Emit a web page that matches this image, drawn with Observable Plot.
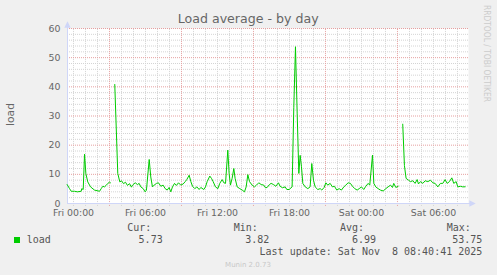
<!DOCTYPE html>
<html><head><meta charset="utf-8">
<script src="https://cdn.jsdelivr.net/npm/d3@7"></script>
<script src="https://cdn.jsdelivr.net/npm/@observablehq/plot@0.6"></script>
<style>
html,body{margin:0;padding:0;background:#f0f0f0;}
#wrap{position:relative;width:497px;height:275px;overflow:hidden;background:#f0f0f0;}
#wrap svg{position:absolute;left:0;top:0;}
</style></head><body><div id="wrap"></div>
<script>
// hours after Fri Nov 7 2025 00:00
const hours = [-0.53,-0.33,-0.19,0.08,0.33,0.64,0.69,0.81,0.92,1.03,1.19,1.42,1.75,2.17,2.31,2.44,2.58,2.72,2.86,3.0,3.08,3.25,3.44,3.69,3.86,4.0,4.17,4.33,4.5,4.67,4.83,4.92,5.14,5.33,5.47,5.61,5.81,5.97,6.08,6.31,6.44,6.58,6.72,6.92,7.08,7.28,7.47,7.64,7.81,7.97,8.11,8.25,8.42,8.58,8.75,8.94,9.14,9.31,9.44,9.64,9.78,9.92,10.11,10.28,10.47,10.61,10.86,11.0,11.14,11.36,11.5,11.64,11.83,12.03,12.19,12.39,12.53,12.67,12.86,12.97,13.08,13.22,13.36,13.47,13.64,13.86,14.06,14.25,14.39,14.53,14.67,14.89,15.08,15.25,15.44,15.64,15.86,16.0,16.14,16.33,16.47,16.67,16.86,17.08,17.22,17.42,17.64,17.78,17.97,18.22,18.36,18.5,18.64,18.78,18.89,19.0,19.11,19.31,19.53,19.72,19.86,20.0,20.14,20.36,20.56,20.69,20.89,21.03,21.19,21.39,21.58,21.75,21.94,22.14,22.33,22.53,22.69,22.89,23.08,23.25,23.44,23.64,23.81,24.0,24.19,24.36,24.56,24.69,24.92,25.03,25.19,25.39,25.58,25.81,26.03,26.22,26.42,26.58,26.69,26.86,27.06,27.25,27.44,27.58,27.72,27.92,28.08,28.28,28.47,28.64,28.75,28.92,29.11,29.31,29.53,29.75,29.94,30.14,30.36,30.58,30.78,30.97,31.14,31.33,31.53,31.69,31.89,32.03,32.25,32.44,32.64];
const load = [6.5,5.1,4.2,4.2,4.0,4.2,5.1,4.8,16.9,10.3,7.4,5.7,4.6,4.2,5.1,5.9,5.7,6.2,6.9,7.3,7.1,null,40.8,10.3,7.4,7.8,6.8,7.3,6.2,6.8,5.6,6.3,7.1,6.5,6.9,5.7,5.1,4.0,4.6,15.1,9.1,5.7,6.3,6.9,7.1,5.9,6.3,5.1,4.6,5.5,4.0,5.7,6.9,6.2,7.1,6.3,6.7,7.5,8.2,9.7,7.5,5.9,5.1,5.7,4.8,5.5,4.8,5.7,7.5,9.4,8.6,7.5,5.7,5.1,6.9,8.2,7.1,6.9,18.3,10.3,6.3,8.6,12.0,8.6,5.7,5.1,4.6,4.0,5.7,9.9,7.5,6.3,5.7,6.3,7.1,6.5,6.3,5.4,5.5,6.5,6.9,6.5,5.9,7.1,5.9,5.4,5.7,4.8,4.8,5.7,33,53.75,31,10.3,16.5,12.6,6.9,5.7,5.1,5.7,13.7,8.0,5.7,4.8,5.1,4.6,5.5,7.1,6.3,6.9,5.7,5.9,4.6,5.1,4.6,5.7,6.3,7.1,6.9,5.9,5.1,4.6,5.1,5.7,4.8,5.9,6.9,6.3,16.6,6.9,5.7,5.1,4.6,4.3,5.1,5.7,6.3,5.5,6.9,5.5,5.9,null,27.2,13,8.6,8.0,7.5,7.8,6.9,8.2,6.7,7.5,6.9,7.8,7.5,8.0,7.1,6.9,5.7,6.9,6.9,8.2,6.9,7.5,8.8,6.9,7.5,5.7,5.9,5.7,5.73];
const yTicks = [0,10,20,30,40,50,60];
const xTickHours = [0,6,12,18,24,30];
const domainHours = [-0.5, 32.92];
const seriesName = "load";
const legendHeaders = ["Cur:","Min:","Avg:","Max:"];
const legendValues = ["5.73","3.82","6.99","53.75"];
const titleText = "Load average - by day";
const lastUpdate = "Last update: Sat Nov  8 08:40:41 2025";
const watermark = "RRDTOOL / TOBI OETIKER";
const footer = "Munin 2.0.73";

const base = Date.UTC(2025,10,7,0,0);
const toDate = h => new Date(base + h*3600e3);
const data = hours.map((h,i)=>({t: toDate(h), v: load[i]}));
const fmt = d3.utcFormat("%a %H:%M");
const lav = "#cfd6f8";
const minorX = d3.range(0,33).filter(h => h%6 !== 3).map(toDate);
const majorX = d3.range(3,33,6).map(toDate);
const minorY = d3.range(2,60,2).filter(v => v%10 !== 0);
const majorY = yTicks.filter(v => v > 0);
const x0 = toDate(domainHours[0]), x1 = toDate(domainHours[1]);

const rightTri = {draw(ctx, size){const r=Math.sqrt(size/Math.PI); ctx.moveTo(r,0); ctx.lineTo(-r,-r); ctx.lineTo(-r,r); ctx.closePath();}};
const upTri = {draw(ctx, size){const r=Math.sqrt(size/Math.PI); ctx.moveTo(0,-r); ctx.lineTo(r,r); ctx.lineTo(-r,r); ctx.closePath();}};

const chart = Plot.plot({
  width: 497, height: 275,
  marginLeft: 67, marginRight: 29, marginTop: 28, marginBottom: 72,
  style: {fontFamily: "DejaVu Sans", fontSize: "9.4px", color: "#666", background: "transparent", overflow: "visible"},
  x: {type: "utc", domain: [x0, x1]},
  y: {domain: [0, 60]},
  marks: [
    Plot.frame({fill: "white", stroke: null}),
    Plot.ruleX(minorX, {y1: -1, y2: 60, stroke: "#d4d4d4", strokeDasharray: "1,1"}),
    Plot.ruleY(minorY, {x1: x0, x2: x1, stroke: "#d4d4d4", strokeDasharray: "1,1"}),
    Plot.ruleX(majorX, {y1: -1, y2: 60, stroke: "#e6a0a0", strokeDasharray: "1,1"}),
    Plot.ruleY(majorY, {x1: x0, x2: x1, stroke: "#e6a0a0", strokeDasharray: "1,1"}),
    Plot.ruleY([0], {x1: x0, x2: toDate(domainHours[1]+0.25), stroke: lav}),
    Plot.ruleX([x0], {y1: 0, y2: 61, stroke: lav}),
    Plot.dot([0], {x: () => x1, y: 0, dx: 4, r: 3.2, symbol: rightTri, fill: lav, stroke: null}),
    Plot.dot([0], {x: () => x0, y: 60, dy: -4, r: 3.2, symbol: upTri, fill: lav, stroke: null}),
    Plot.line(data, {x: "t", y: "v", stroke: "#00cc00", strokeWidth: 1}),
    Plot.axisX(xTickHours.map(toDate), {tickSize: 0, tickPadding: 6, tickFormat: fmt, label: null, fill: "#666"}),
    Plot.axisY(yTicks, {tickSize: 0, tickPadding: 7, label: null, fill: "#666"})
  ]
});
document.getElementById("wrap").appendChild(chart);

// text overlay
const svg = d3.select("#wrap").append("svg").attr("width",497).attr("height",275);
svg.append("text").attr("x",248.2).attr("y",23).attr("text-anchor","middle")
  .attr("font-family","DejaVu Sans").attr("font-size","12.6px").attr("fill","#666").text(titleText);
svg.append("text").attr("transform","translate(14,114.5) rotate(-90)").attr("text-anchor","middle")
  .attr("font-family","DejaVu Sans").attr("font-size","10.7px").attr("fill","#666").text(seriesName);
svg.append("text").attr("transform","translate(484,5) rotate(90)")
  .attr("font-family","DejaVu Sans").attr("font-size","8px").attr("fill","#cccccc")
  .attr("textLength",97).attr("lengthAdjust","spacingAndGlyphs").text(watermark);
svg.append("rect").attr("x",14).attr("y",237).attr("width",6).attr("height",6).attr("fill","#00cc00");
const mono = sel => sel.attr("font-family","DejaVu Sans Mono").attr("font-size","10px").attr("fill","#555");
svg.append("text").attr("x",26.7).attr("y",242.7).call(mono).text(seriesName);
const hx = [127.3,233.7,340,446.7], vx = [162.7,269.3,376,482.3];
legendHeaders.forEach((h,i)=> svg.append("text").attr("x",hx[i]).attr("y",230.7).call(mono).text(h));
legendValues.forEach((v,i)=> svg.append("text").attr("x",vx[i]).attr("y",242.7).attr("text-anchor","end").call(mono).text(v));
svg.append("text").attr("x",482.3).attr("y",255).attr("text-anchor","end").attr("xml:space","preserve").style("white-space","pre").call(mono).text(lastUpdate);
svg.append("text").attr("x",248).attr("y",266.5).attr("text-anchor","middle")
  .attr("font-family","DejaVu Sans").attr("font-size","7px").attr("fill","#c8c8c8").text(footer);
</script></body></html>
